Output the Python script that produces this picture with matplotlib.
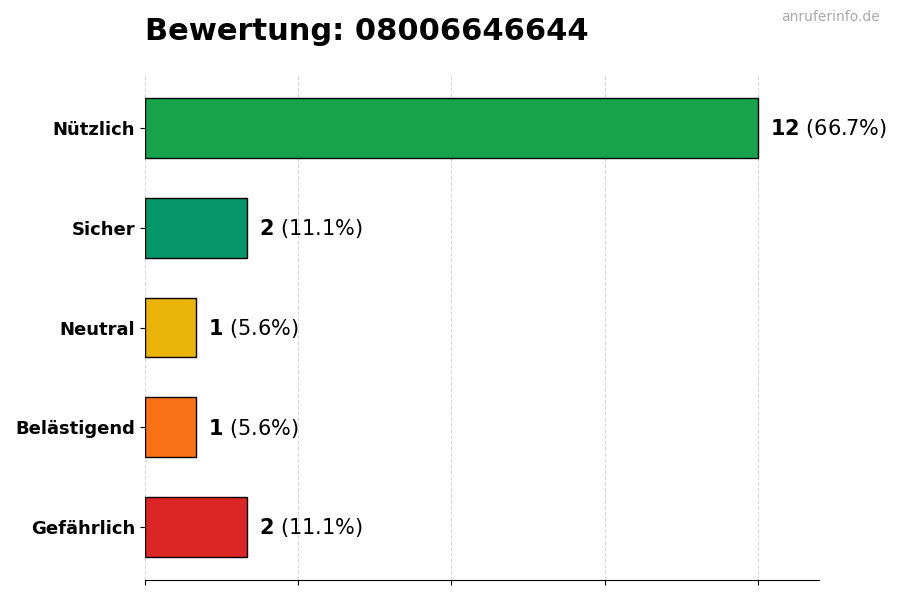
import matplotlib
matplotlib.use("Agg")
import matplotlib.pyplot as plt

categories = ["Nützlich", "Sicher", "Neutral", "Belästigend", "Gefährlich"]
counts = [12, 2, 1, 1, 2]
colors = ["#16a34a", "#059669", "#eab308", "#f97316", "#dc2626"]
title = "Bewertung: 08006646644"
watermark = "anruferinfo.de"

total = sum(counts)
fig = plt.figure(figsize=(9, 6), dpi=100)
ax = fig.add_axes([0.161, 0.0333, 0.749, 0.8417])

ypos = list(range(len(categories)))[::-1]
ax.barh(ypos, counts, height=0.6, color=colors, edgecolor="black", linewidth=1, zorder=3)
ax.set_yticks(ypos)
ax.set_yticklabels(categories, fontsize=13, fontweight="bold")
ax.set_xlim(0, max(counts) * 1.1)
ax.set_xticks([0, 3, 6, 9, 12])
ax.set_xticklabels([])
ax.grid(axis="x", linestyle="--", color="#d9d9d9", linewidth=0.8, zorder=0)
ax.set_axisbelow(True)
for s in ["top", "right", "left"]:
    ax.spines[s].set_visible(False)

for y, c in zip(ypos, counts):
    pct = c / total * 100
    ax.text(c + 0.24, y - 0.008, r"$\mathbf{%d}$ (%.1f%%)" % (c, pct), va="center", ha="left", fontsize=15)

fig.text(0.161, 0.947, title, fontsize=22, fontweight="bold", ha="left", va="center")
fig.text(0.978, 0.971, watermark, fontsize=10, color="#aaaaaa", ha="right", va="center")

fig.savefig("out.png", dpi=100)
